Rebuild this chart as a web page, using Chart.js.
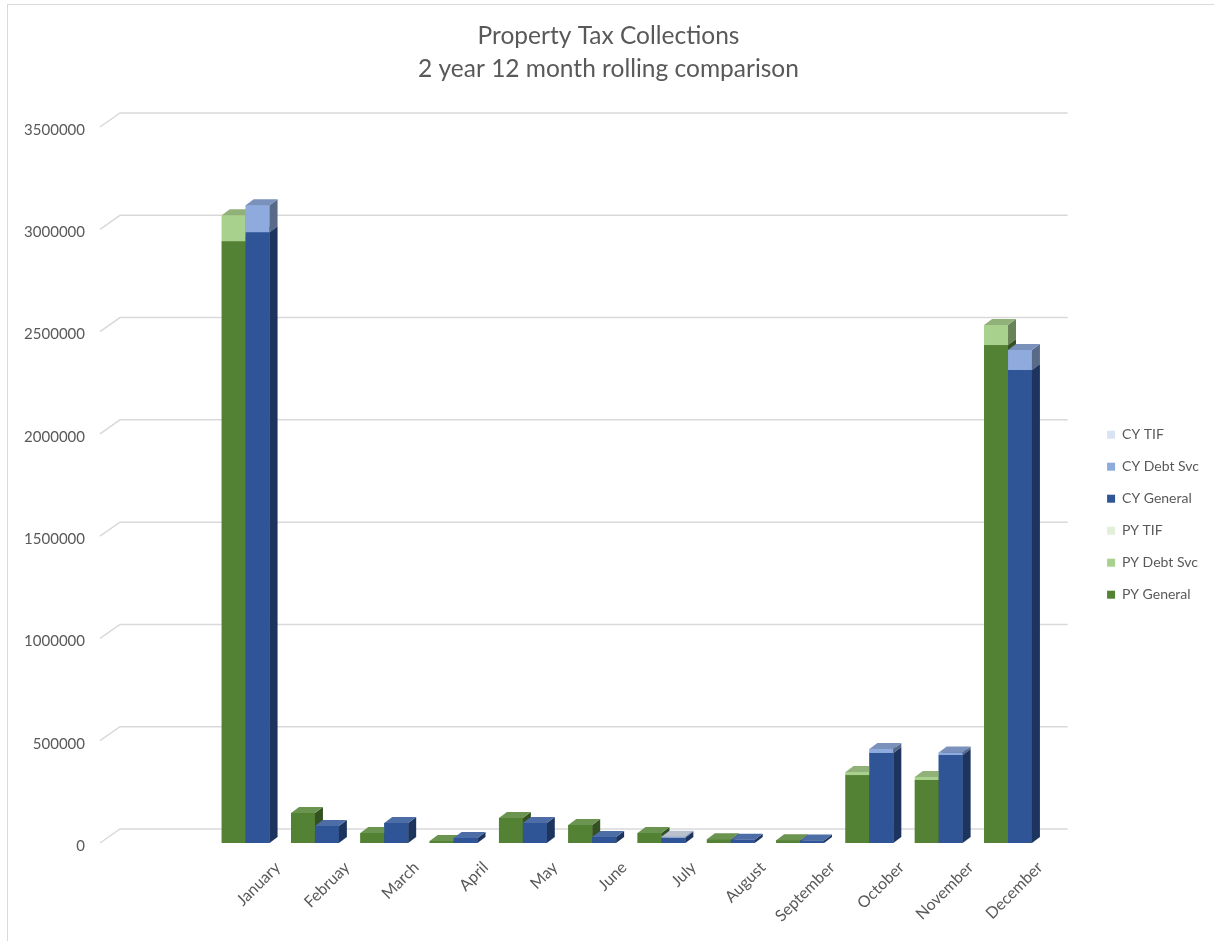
<!DOCTYPE html>
<html>
<head>
<meta charset="utf-8">
<title>Property Tax Collections</title>
<script src="https://cdn.jsdelivr.net/npm/chart.js@4"></script>
<style>
  html, body { margin: 0; padding: 0; background: #fff; }
  canvas { display: block; }
</style>
</head>
<body>
<canvas id="tax-chart" width="1214" height="941"></canvas>
<script>
// months (the "Februay" spelling is as in the source sheet)
const months = ['January', 'Februay', 'March', 'April', 'May', 'June', 'July',
  'August', 'September', 'October', 'November', 'December'];

// prior year
const pyGeneral = [2942000, 147000, 49000, 10000, 122000, 88000, 49000, 18000, 14000, 332000, 308000, 2434000];
const pyDebtSvc = [127000, 0, 0, 0, 0, 0, 0, 0, 0, 15000, 15000, 98000];
const pyTif = [0, 0, 0, 0, 0, 0, 0, 0, 0, 0, 0, 0];

// current year
const cyGeneral = [2986000, 83000, 98000, 25000, 98000, 29000, 27000, 16000, 12000, 440000, 430000, 2312000];
const cyDebtSvc = [132000, 0, 0, 0, 0, 0, 0, 0, 0, 20000, 12000, 98000];
const cyTif = [0, 0, 0, 0, 0, 0, 4000, 0, 0, 0, 0, 0];

const yTicks = [0, 500000, 1000000, 1500000, 2000000, 2500000, 3000000, 3500000];

const textColor = '#595959';
const gridColor = '#d9d9d9';
const depth = { x: 8, y: 6 };        // bar extrusion
const wall = { x: 20, y: 14, inset: 111 }; // back wall offset

function shade(hex, f) {
  const n = parseInt(hex.slice(1), 16);
  let r = n >> 16, g = (n >> 8) & 255, b = n & 255;
  const t = f < 0 ? 0 : 255, p = Math.abs(f);
  r = Math.round((t - r) * p + r);
  g = Math.round((t - g) * p + g);
  b = Math.round((t - b) * p + b);
  return `rgb(${r},${g},${b})`;
}

function isLight(hex) {
  const n = parseInt(hex.slice(1), 16);
  return ((n >> 16) + ((n >> 8) & 255) + (n & 255)) / 3 > 150;
}

const frame = {
  id: 'frame',
  beforeDraw(chart) {
    const ctx = chart.ctx;
    ctx.save();
    ctx.strokeStyle = gridColor;
    ctx.lineWidth = 1;
    ctx.strokeRect(7.5, 4.5, chart.width, chart.height);
    ctx.restore();
  }
};

// gridlines on the back wall + the little slanted side-wall lines
const backWall = {
  id: 'backWall',
  beforeDatasetsDraw(chart) {
    const { ctx, chartArea, scales } = chart;
    const xl = chartArea.left - wall.inset;
    const xr = chartArea.right + 5;
    ctx.save();
    ctx.strokeStyle = gridColor;
    ctx.lineWidth = 1.5;
    scales.y.ticks.forEach(t => {
      const y = scales.y.getPixelForValue(t.value);
      ctx.beginPath();
      ctx.moveTo(xl, y);
      ctx.lineTo(xl + wall.x, y - wall.y);
      ctx.lineTo(xr + wall.x, y - wall.y);
      ctx.stroke();
    });
    ctx.restore();
  }
};

// redraw each stack as a 3D block: front, right side and top
const bars3d = {
  id: 'bars3d',
  afterDatasetsDraw(chart) {
    const ctx = chart.ctx;
    const metas = chart.getSortedVisibleDatasetMetas();
    ctx.save();
    for (let i = 0; i < chart.data.labels.length; i++) {
      ['PY', 'CY'].forEach(stack => {
        metas.filter(m => m.stack === stack).forEach(m => {
          const ds = chart.data.datasets[m.index];
          if (!ds.data[i]) return;
          const el = m.data[i];
          const color = ds.backgroundColor;
          const x0 = el.x - el.width / 2, x1 = el.x + el.width / 2;
          const top = el.y, base = el.base;
          ctx.fillStyle = color;
          ctx.fillRect(x0, top, x1 - x0, base - top);
          ctx.fillStyle = shade(color, -0.38);
          ctx.beginPath();
          ctx.moveTo(x1, top);
          ctx.lineTo(x1 + depth.x, top - depth.y);
          ctx.lineTo(x1 + depth.x, base - depth.y);
          ctx.lineTo(x1, base);
          ctx.closePath();
          ctx.fill();
          ctx.fillStyle = isLight(color) ? shade(color, -0.15) : shade(color, 0.14);
          ctx.beginPath();
          ctx.moveTo(x0, top);
          ctx.lineTo(x1, top);
          ctx.lineTo(x1 + depth.x, top - depth.y);
          ctx.lineTo(x0 + depth.x, top - depth.y);
          ctx.closePath();
          ctx.fill();
        });
      });
    }
    ctx.restore();
  }
};

function series(label, data, color, stack) {
  return {
    label, data, stack,
    backgroundColor: color,
    borderWidth: 0,
    categoryPercentage: 0.69,
    barPercentage: 1
  };
}

new Chart(document.getElementById('tax-chart'), {
  type: 'bar',
  data: {
    labels: months,
    datasets: [
      series('PY General', pyGeneral, '#548235', 'PY'),
      series('PY Debt Svc', pyDebtSvc, '#a9d18e', 'PY'),
      series('PY TIF', pyTif, '#e2f0d9', 'PY'),
      series('CY General', cyGeneral, '#2f5597', 'CY'),
      series('CY Debt Svc', cyDebtSvc, '#8faadc', 'CY'),
      series('CY TIF', cyTif, '#dae3f3', 'CY')
    ]
  },
  options: {
    responsive: false,
    animation: false,
    layout: { padding: { left: 8, top: 4, right: 5, bottom: 0 } },
    plugins: {
      title: {
        display: true,
        text: ['Property Tax Collections', '2 year 12 month rolling comparison'],
        color: textColor,
        font: { family: 'Lato', size: 24.5, weight: 'normal', lineHeight: '33px' },
        padding: { top: 15.5, bottom: 41.5 }
      },
      legend: {
        position: 'right',
        reverse: true,
        fullSize: false,
        title: { display: true, text: '', padding: { top: 45, bottom: 0 } },
        labels: {
          boxWidth: 8,
          boxHeight: 8,
          padding: 18,
          color: textColor,
          font: { family: 'Lato', size: 14 }
        }
      },
      tooltip: { enabled: false }
    },
    scales: {
      x: {
        stacked: true,
        grid: { display: false },
        border: { display: false },
        ticks: {
          color: textColor,
          font: { family: 'Lato', size: 16 },
          minRotation: 45,
          maxRotation: 45,
          autoSkip: false,
          padding: 7,
          labelOffset: 32
        },
        afterFit(s) { s.height = 98; }
      },
      y: {
        stacked: true,
        min: 0,
        max: 3500000,
        grid: { display: false, drawTicks: false },
        border: { display: false },
        afterBuildTicks(s) { s.ticks = yTicks.map(v => ({ value: v })); },
        ticks: {
          color: textColor,
          font: { family: 'Lato', size: 15 },
          padding: 126,
          labelOffset: 3,
          callback: v => String(v)
        },
        // wide label gap, but don't let it pad the plot vertically
        afterFit(s) { s.width = 203; s.paddingTop = 0; s.paddingBottom = 0; }
      },
      gap: {
        position: 'right',
        grid: { display: false },
        border: { display: false },
        ticks: { display: false },
        afterFit(s) { s.width = 46.4; }
      }
    }
  },
  plugins: [frame, backWall, bars3d]
});
</script>
</body>
</html>
